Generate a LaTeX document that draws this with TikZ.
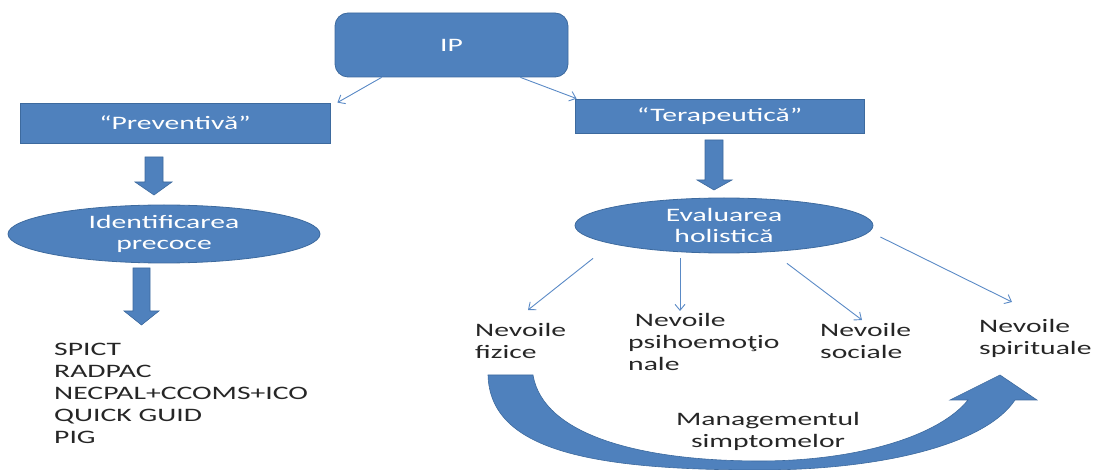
\documentclass[tikz,border=0pt]{standalone}
\usepackage{fontspec}
\setmainfont{Carlito}[FakeStretch=1.56]
\usetikzlibrary{arrows.meta,shapes.geometric,calc}
\definecolor{fillb}{HTML}{4F81BD}
\definecolor{edgeb}{HTML}{3D6A9E}
\definecolor{lineb}{HTML}{5A8AC6}
\definecolor{txt}{HTML}{262626}
\begin{document}
\begin{tikzpicture}[x=1pt,y=-1pt,
  box/.style={draw=edgeb, fill=fillb, line width=0.8pt, text=white, inner sep=0pt, font=\fontsize{19}{21}\selectfont},
  rbox/.style={box, rounded corners=13pt},
  oval/.style={box, ellipse, align=center},
  lbl/.style={text=txt, inner sep=0pt, anchor=north west, align=left, font=\fontsize{19}{22}\selectfont},
  thinarrow/.style={draw=lineb, line width=0.9pt, -{Straight Barb[length=6pt,width=10pt]}},
  blockarrow/.style={fill=fillb, draw=edgeb, line width=0.6pt}
]
\useasboundingbox (0,0) rectangle (1096,470);
% boxes
\node[rbox, minimum width=233pt, minimum height=64pt] (ip) at (451.5,45) {IP};
\node[box, minimum width=310pt, minimum height=40pt] (prev) at (175,123) {“Preventivă”};
\node[box, minimum width=289pt, minimum height=34pt] (ter) at (719.5,116) {“Terapeutică”};
\node[oval, minimum width=312pt, minimum height=58pt] (ident) at (164,234) {Identificarea\\precoce};
\node[oval, minimum width=298pt, minimum height=55pt] (eval) at (724,225.5) {Evaluarea\\holistică};
% labels
\node[lbl] (list) at (54,343) {SPICT\\RADPAC\\NECPAL+CCOMS+ICO\\QUICK GUID\\PIG};
\node[lbl] (fiz) at (475,322.7) {Nevoile\\fizice};
\node[lbl] (psi) at (628,312.7) {\ Nevoile\\psihoemoţio\\nale};
\node[lbl] (soc) at (820,322.7) {Nevoile\\sociale};
\node[lbl] (spir) at (979,318.7) {Nevoile\\spirituale};
\node[lbl, align=center, anchor=north] (mgmt) at (768,411.7) {Managementul\\simptomelor};
% thin arrows
\draw[thinarrow] ($(ip.south west)+(47,0)$) -- ($(prev.north east)+(7,0)$);
\draw[thinarrow] ($(ip.south east)+(-48,0)$) -- ($(ter.north west)+(2,0)$);
\draw[thinarrow] ($(eval.south)+(-131,5)$) -- ($(fiz.north west)+(53,-12.7)$);
\draw[thinarrow] ($(eval.south)+(-44,5)$) -- ($(psi.north west)+(52,-1.7)$);
\draw[thinarrow] ($(eval.south)+(63,10)$) -- ($(soc.north west)+(42,-2.7)$);
\draw[thinarrow] ($(eval.east)+(7,11.5)$) -- ($(spir.north west)+(33,-16.7)$);
% block arrows
\path[blockarrow] (145,157) -- (163,157) -- (163,182) -- (172,182) -- (154,195) -- (135,182) -- (145,182) -- cycle;
\path[blockarrow] (133,268) -- (150,268) -- (150,311) -- (159,311) -- (141.5,325) -- (124,311) -- (133,311) -- cycle;
\path[blockarrow] (705,140) -- (723,140) -- (723,180) -- (732,180) -- (714,190) -- (697,180) -- (705,180) -- cycle;
% curved arrow
\path[blockarrow] (488,375) .. controls (490,450) and (590,470) .. (760,470)
  .. controls (880,470) and (985,445) .. (1015,400) -- (1037,400) -- (1000,375) -- (950,400) -- (968,400)
  .. controls (940,435) and (860,461) .. (760,461)
  .. controls (640,461) and (543,435) .. (533,375) -- cycle;
\end{tikzpicture}
\end{document}
